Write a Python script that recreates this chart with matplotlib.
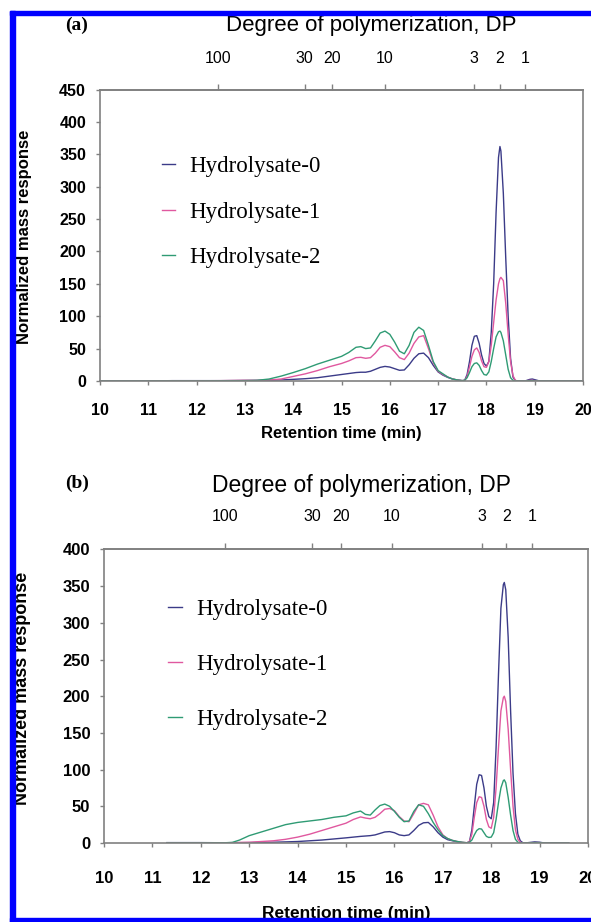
import matplotlib
matplotlib.use("Agg")
import matplotlib.pyplot as plt
from matplotlib.patches import Rectangle

plt.rcParams['font.family'] = ['Liberation Sans', 'DejaVu Sans']

# ---- panel (a) data ----
time_a = [10.0, 11.0, 11.5, 12.0, 12.5, 13.0, 13.25, 13.5, 13.75, 14.0, 14.25, 14.5, 14.75,
          15.0, 15.15, 15.3, 15.4, 15.5, 15.6, 15.7, 15.8, 15.9, 16.0, 16.1, 16.2, 16.3, 16.4,
          16.5, 16.6, 16.7, 16.8, 16.9, 17.0, 17.1, 17.2, 17.3, 17.4, 17.5, 17.55, 17.6, 17.65,
          17.7, 17.75, 17.8, 17.85, 17.9, 17.95, 18.0, 18.05, 18.1, 18.15, 18.2, 18.25, 18.28,
          18.3, 18.35, 18.4, 18.45, 18.5, 18.55, 18.6, 18.65, 18.7, 18.8, 18.9, 18.95, 19.0,
          19.1, 19.5, 20.0]
hydro0_a = [0, 0, 0.5, 0.5, 0.5, 0.8, 0.8, 1, 1.5, 2.5, 3.5, 5, 7.5,
            10, 11.5, 13, 13.5, 13.5, 15, 18, 21, 22.5, 21.5, 19, 16.5, 17, 25,
            35, 42, 43, 36, 24, 14, 9, 5.5, 3, 1.5, 0.5, 1, 10, 30,
            55, 69, 70, 58, 40, 27, 23, 30, 75, 150, 260, 345, 362,
            355, 290, 190, 100, 35, 6, 0.5, 0, 0, 0, 2.5, 3, 2,
            0, 0, 0]
hydro1_a = [0, 0, 0.3, 0.3, 0.5, 1, 1, 1.5, 3, 7, 11, 16, 22,
            27, 31, 36, 36.5, 35, 36, 43, 52, 55, 53, 45, 36, 33, 43,
            58, 68, 70, 50, 28, 15, 10, 6, 3, 1.5, 0.5, 1, 7, 22,
            38, 48, 51, 44, 31, 22, 21, 30, 55, 90, 125, 150, 158,
            160, 155, 120, 72, 30, 8, 1, 0, 0, 0, 1, 1, 0.5,
            0, 0, 0]
hydro2_a = [0, 0, 0, 0, 0.3, 0.5, 1, 3, 7.5, 13, 19, 26, 32,
            38, 44, 52, 53, 50, 51, 62, 74, 77, 72, 60, 46, 42, 55,
            75, 83, 78, 55, 30, 16, 11, 6, 3, 1.5, 0.5, 1, 5, 13,
            22, 27, 28, 24, 16, 10, 9, 14, 30, 50, 68, 76, 77,
            75, 62, 40, 18, 5, 1, 0, 0, 0, 0, 0.5, 0.5, 0,
            0, 0, 0]
dp_pos_a = [12.44, 14.24, 14.81, 15.90, 17.74, 18.28, 18.80]

# ---- panel (b) data ----
time_b = [11.3, 12.0, 12.5, 12.65, 12.8, 13.0, 13.25, 13.5, 13.75, 14.0, 14.25, 14.5, 14.75,
          15.0, 15.15, 15.3, 15.4, 15.5, 15.6, 15.7, 15.8, 15.9, 16.0, 16.1, 16.2, 16.3, 16.4,
          16.5, 16.6, 16.7, 16.8, 16.9, 17.0, 17.1, 17.2, 17.3, 17.4, 17.5, 17.55, 17.6, 17.65,
          17.7, 17.75, 17.8, 17.85, 17.9, 17.95, 18.0, 18.05, 18.1, 18.15, 18.2, 18.25, 18.27,
          18.3, 18.35, 18.4, 18.45, 18.5, 18.55, 18.6, 18.65, 18.7, 18.9, 19.0, 19.1, 19.6]
hydro0_b = [0.5, 0.5, 0.3, 0.3, 0.4, 0.5, 0.8, 1, 1.5, 2, 3, 4, 5.5,
            7, 8, 9, 9.5, 10, 11, 13, 15, 15.5, 14, 11, 10, 11, 17,
            24, 27.5, 28, 22, 14, 8, 4.5, 3, 1.5, 0.5, 0.3, 2, 18, 50,
            80, 93, 92, 75, 50, 36, 33, 55, 130, 230, 320, 352, 355,
            345, 280, 180, 95, 40, 12, 3, 0.5, 0, 1.5, 1, 0, 0]
hydro1_b = [0, 0, 0.3, 0.5, 0.8, 1, 2, 3, 5, 8, 12, 17, 22,
            27, 32, 35.5, 34, 33, 35, 40, 46, 47, 44, 36, 30, 29, 40,
            52, 54, 52, 38, 22, 11, 6, 3.5, 2, 1, 0.3, 2, 12, 35,
            55, 63, 62, 50, 32, 22, 20, 35, 75, 130, 180, 198, 200,
            193, 155, 100, 50, 18, 5, 1, 0, 0, 0.5, 0.5, 0, 0]
hydro2_b = [0, 0, 0.3, 0.8, 4, 10, 15, 20, 25, 28, 30, 32, 35,
            37, 41, 43.5, 39, 38, 45, 51, 53, 50, 43, 35, 29, 30, 43,
            52, 50, 40, 28, 18, 10, 6, 3.5, 2, 1, 0.3, 1, 4, 11,
            17, 19.5, 19, 14, 9, 7.5, 8, 14, 32, 55, 75, 85, 86,
            82, 62, 38, 17, 5, 1, 0, 0, 0, 0.5, 0.5, 0, 0]
dp_pos_b = [12.50, 14.30, 14.90, 15.95, 17.81, 18.31, 18.84]

dp_labels = ['100', '30', '20', '10', '3', '2', '1']
series_names = ['Hydrolysate-0', 'Hydrolysate-1', 'Hydrolysate-2']
colors = ['#3b3b88', '#e0589f', '#2f9b74']
SPINE = '#808080'


def draw_panel(ax, time, series, ymax, dp_pos, fs, xpad, dp_pad):
    for values, name, color in zip(series, series_names, colors):
        ax.plot(time, values, color=color, lw=1.0, label=name)

    ax.set_xlim(10, 20)
    ax.set_ylim(0, ymax)
    ax.set_xticks(range(10, 21))
    ax.set_yticks(range(0, ymax + 1, 50))
    for side in ax.spines:
        ax.spines[side].set_color(SPINE)
        ax.spines[side].set_linewidth(1.2)
    ax.tick_params(direction='out', length=3, width=1, color=SPINE,
                   labelsize=fs, pad=7)
    ax.tick_params(axis='x', pad=xpad)
    for lab in ax.get_xticklabels() + ax.get_yticklabels():
        lab.set_fontweight('bold')

    top = ax.secondary_xaxis('top')
    top.set_xticks(dp_pos, dp_labels)
    top.tick_params(direction='out', length=4, width=1, color=SPINE,
                    labelsize=11.5, pad=dp_pad)
    top.spines['top'].set_color(SPINE)
    top.spines['top'].set_linewidth(1.2)


fig = plt.figure(figsize=(5.91, 9.22), dpi=100)

ax_a = fig.add_axes([0.1692, 0.5868, 0.8173, 0.3161])
draw_panel(ax_a, time_a, [hydro0_a, hydro1_a, hydro2_a], 450, dp_pos_a, 11.5, 13, 13)
ax_a.text(0.5, -0.155, 'Retention time (min)', transform=ax_a.transAxes,
          ha='center', va='top', fontsize=12, fontweight='bold')
ax_a.text(-0.157, 0.494, 'Normalized mass response', transform=ax_a.transAxes,
          rotation=90, ha='center', va='center', fontsize=12, fontweight='bold')
ax_a.legend(loc='upper left', bbox_to_anchor=(0.128, 0.771), frameon=False,
            prop={'family': 'Liberation Serif', 'size': 16.5},
            handlelength=0.57, handletextpad=0.65, labelspacing=1.06,
            borderpad=0, borderaxespad=0)

ax_b = fig.add_axes([0.1760, 0.0857, 0.8190, 0.3184])
draw_panel(ax_b, time_b, [hydro0_b, hydro1_b, hydro2_b], 400, dp_pos_b, 12, 17, 14.5)
ax_b.text(0.5, -0.215, 'Retention time (min)', transform=ax_b.transAxes,
          ha='center', va='top', fontsize=12.5, fontweight='bold')
ax_b.text(-0.169, 0.526, 'Normalized mass response', transform=ax_b.transAxes,
          rotation=90, ha='center', va='center', fontsize=13, fontweight='bold')
ax_b.legend(loc='upper left', bbox_to_anchor=(0.132, 0.831), frameon=False,
            prop={'family': 'Liberation Serif', 'size': 16.5},
            handlelength=0.62, handletextpad=0.6, labelspacing=1.47,
            borderpad=0, borderaxespad=0)

# titles and panel letters
fig.text(371 / 591, 1 - 25 / 922, 'Degree of polymerization, DP',
         ha='center', va='center', fontsize=16)
fig.text(362 / 591, 1 - 485 / 922, 'Degree of polymerization, DP',
         ha='center', va='center', fontsize=16.5)
fig.text(77 / 591, 1 - 25 / 922, '(a)', ha='center', va='center',
         family='Liberation Serif', fontweight='bold', fontsize=14)
fig.text(77 / 591, 1 - 483 / 922, '(b)', ha='center', va='center',
         family='Liberation Serif', fontweight='bold', fontsize=14)

# blue frame around the figure (left, top, bottom)
for rect in [(10, 0, 5, 911), (10, 907, 581, 4), (10, 0, 581, 4)]:
    x, y, w, h = rect
    fig.add_artist(Rectangle((x / 591, y / 922), w / 591, h / 922,
                             transform=fig.transFigure, color='#0000ff',
                             zorder=10, clip_on=False))

fig.savefig('out.png', dpi=100)
